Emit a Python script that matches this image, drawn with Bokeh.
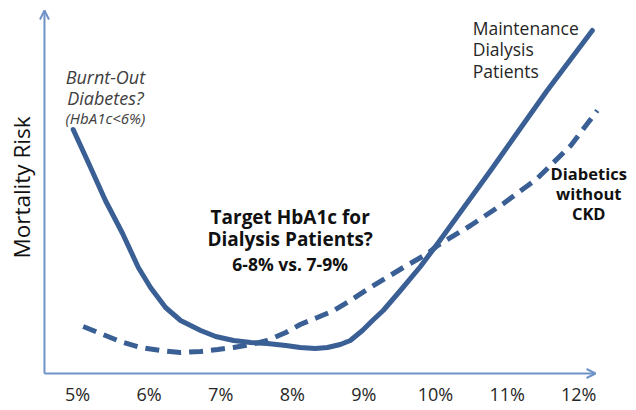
from bokeh.plotting import figure
from bokeh.models import Label, Arrow, OpenHead
from bokeh.embed import file_html
from bokeh.resources import INLINE

# HbA1c (%) and relative mortality risk (arbitrary units)
dialysis_x = [4.94, 5.17, 5.39, 5.63, 5.85, 6.02, 6.23, 6.44, 6.72, 6.93, 7.18, 7.42, 7.65,
              7.91, 8.11, 8.32, 8.49, 8.67, 8.81, 8.98, 9.12, 9.27, 9.51, 9.79, 10.03,
              10.77, 11.56, 12.19]
dialysis_y = [244, 208, 173, 140, 106, 86, 66, 53, 43, 37, 33, 31, 30,
              28, 26, 25, 26, 29, 33, 43, 53, 63, 83, 107, 130,
              203, 283, 343]

nockd_x = [5.08, 5.32, 5.60, 5.88, 6.16, 6.44, 6.72, 6.96, 7.18, 7.42, 7.65, 7.91, 8.11,
           8.35, 8.58, 8.81, 9.09, 9.55, 9.89, 10.03, 10.49, 10.95, 11.42, 11.89, 12.26]
nockd_y = [47, 40, 32, 26, 23, 21, 22, 24, 26, 29, 33, 41, 49,
           56, 63, 73, 86, 106, 120, 128, 148, 170, 195, 228, 263]

tick_values = [5, 6, 7, 8, 9, 10, 11, 12]
tick_labels = ["5%", "6%", "7%", "8%", "9%", "10%", "11%", "12%"]

LINE = "#3a5f95"
AXIS = "#6f93c6"
FONT = "Open Sans"

p = figure(width=636, height=410, x_range=(3.925, 12.807), y_range=(-37, 373),
           min_border=0, output_backend="svg", toolbar_location=None)
p.outline_line_color = None
p.grid.visible = False
p.xaxis.visible = False
p.yaxis.visible = False

# axes with arrow heads
p.add_layout(Arrow(end=OpenHead(size=9, line_color=AXIS, line_width=2),
                   x_start=4.539, y_start=0, x_end=12.235, y_end=0,
                   line_color=AXIS, line_width=2))
p.add_layout(Arrow(end=OpenHead(size=9, line_color=AXIS, line_width=2),
                   x_start=4.539, y_start=0, x_end=4.539, y_end=363,
                   line_color=AXIS, line_width=2))

# tick labels
for v, t in zip(tick_values, tick_labels):
    p.add_layout(Label(x=v, y=-20, text=t, text_font=FONT, text_font_size="18px",
                       text_align="center", text_baseline="middle", text_color="#262626"))

p.line(dialysis_x, dialysis_y, line_color=LINE, line_width=5, line_cap="round", line_join="round")
p.line(nockd_x, nockd_y, line_color=LINE, line_width=5, line_dash="14 8")

def lab(x, y, t, size, style="normal", align="center", color="#262626"):
    p.add_layout(Label(x=x, y=y, text=t, text_font=FONT, text_font_size=size,
                       text_font_style=style, text_align=align, text_baseline="middle",
                       text_color=color))

p.add_layout(Label(x=4.22, y=186, text="Mortality Risk", angle=1.5708, text_font=FONT,
                   text_font_size="22.5px", text_align="center", text_baseline="middle",
                   text_color="#111111"))

lab(5.39, 297, "Burnt-Out", "18px", "italic", color="#404040")
lab(5.39, 276, "Diabetes?", "18px", "italic", color="#404040")
lab(5.39, 256, "(HbA1c<6%)", "15px", "italic", color="#404040")

lab(7.97, 157, "Target HbA1c for", "19px", "bold", color="#111111")
lab(7.97, 135, "Dialysis Patients?", "19px", "bold", color="#111111")
lab(7.97, 110, "6-8% vs. 7-9%", "17.5px", "bold", color="#111111")

lab(10.52, 346, "Maintenance", "17.5px", align="left")
lab(10.52, 325, "Dialysis", "17.5px", align="left")
lab(10.52, 303, "Patients", "17.5px", align="left")

lab(12.14, 200, "Diabetics", "16.5px", "bold", color="#111111")
lab(12.14, 180, "without", "16.5px", "bold", color="#111111")
lab(12.14, 160, "CKD", "16.5px", "bold", color="#111111")

open("out.html", "w").write(file_html(p, INLINE))
